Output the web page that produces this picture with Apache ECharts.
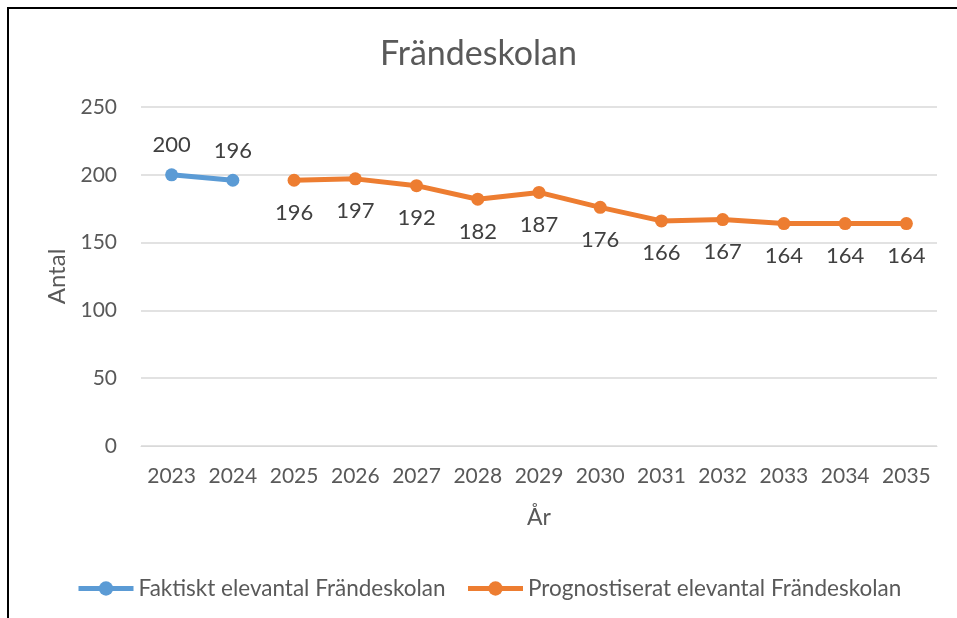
<!DOCTYPE html>
<html>
<head>
<meta charset="utf-8">
<script src="https://cdn.jsdelivr.net/npm/echarts@6/dist/echarts.min.js"></script>
<style>
  html, body { margin: 0; padding: 0; background: #fff; }
  #main { width: 957px; height: 618px; }
</style>
</head>
<body>
<div id="main"></div>
<script>
// data
const years = ['2023', '2024', '2025', '2026', '2027', '2028', '2029', '2030', '2031', '2032', '2033', '2034', '2035'];
const actual = [200, 196, null, null, null, null, null, null, null, null, null, null, null];
const forecast = [null, null, 196, 197, 192, 182, 187, 176, 166, 167, 164, 164, 164];
const yTicks = [0, 50, 100, 150, 200, 250];

const font = 'Lato, "Open Sans", sans-serif';
const grey = '#595959';

let myChart = echarts.init(document.getElementById('main'));
let options = {
    textStyle: { fontFamily: font },
    title: {
        text: 'Frändeskolan',
        left: 'center',
        top: 32,
        textStyle: { fontFamily: font, fontSize: 34, fontWeight: 'normal', color: grey }
    },
    graphic: [{
        type: 'rect',
        shape: { x: 8, y: 8, width: 1000, height: 700 },
        style: { fill: 'none', stroke: '#000', lineWidth: 2 }
    }],
    legend: {
        bottom: 13,
        left: 71,
        itemWidth: 55,
        itemHeight: 18,
        itemGap: 20,
        lineStyle: { width: 5 },
        textStyle: { fontFamily: font, fontSize: 22.5, color: grey },
        data: ['Faktiskt elevantal Frändeskolan', 'Prognostiserat elevantal Frändeskolan']
    },
    grid: { left: 141, right: 20, top: 107, bottom: 172 },
    xAxis: {
        type: 'category',
        data: years,
        name: 'År',
        nameLocation: 'middle',
        nameGap: 60,
        nameTextStyle: { fontFamily: font, fontSize: 23, color: grey },
        axisLine: { show: true, lineStyle: { color: '#d9d9d9', width: 1 } },
        axisTick: { show: false },
        axisLabel: { fontFamily: font, fontSize: 21, color: grey, margin: 20, interval: 0 }
    },
    yAxis: {
        type: 'value',
        min: yTicks[0],
        max: yTicks[yTicks.length - 1],
        interval: 50,
        name: 'Antal',
        nameLocation: 'middle',
        nameGap: 68,
        nameRotate: 90,
        nameTextStyle: { fontFamily: font, fontSize: 24, color: grey },
        axisLine: { show: false },
        axisTick: { show: false },
        splitLine: { lineStyle: { color: '#d9d9d9', width: 1.5 } },
        axisLabel: { fontFamily: font, fontSize: 21, color: grey, margin: 24 }
    },
    series: [
        {
            name: 'Faktiskt elevantal Frändeskolan',
            type: 'line',
            data: actual,
            symbol: 'circle',
            symbolSize: 13,
            color: '#5B9BD5',
            lineStyle: { width: 5 },
            label: {
                show: true,
                position: 'top',
                distance: 12,
                fontFamily: font,
                fontSize: 22,
                color: '#404040'
            }
        },
        {
            name: 'Prognostiserat elevantal Frändeskolan',
            type: 'line',
            data: forecast,
            symbol: 'circle',
            symbolSize: 13,
            color: '#ED7D31',
            lineStyle: { width: 5 },
            label: {
                show: true,
                position: 'bottom',
                distance: 15,
                fontFamily: font,
                fontSize: 22,
                color: '#404040'
            }
        }
    ]
};
myChart.setOption(options);
</script>
</body>
</html>
